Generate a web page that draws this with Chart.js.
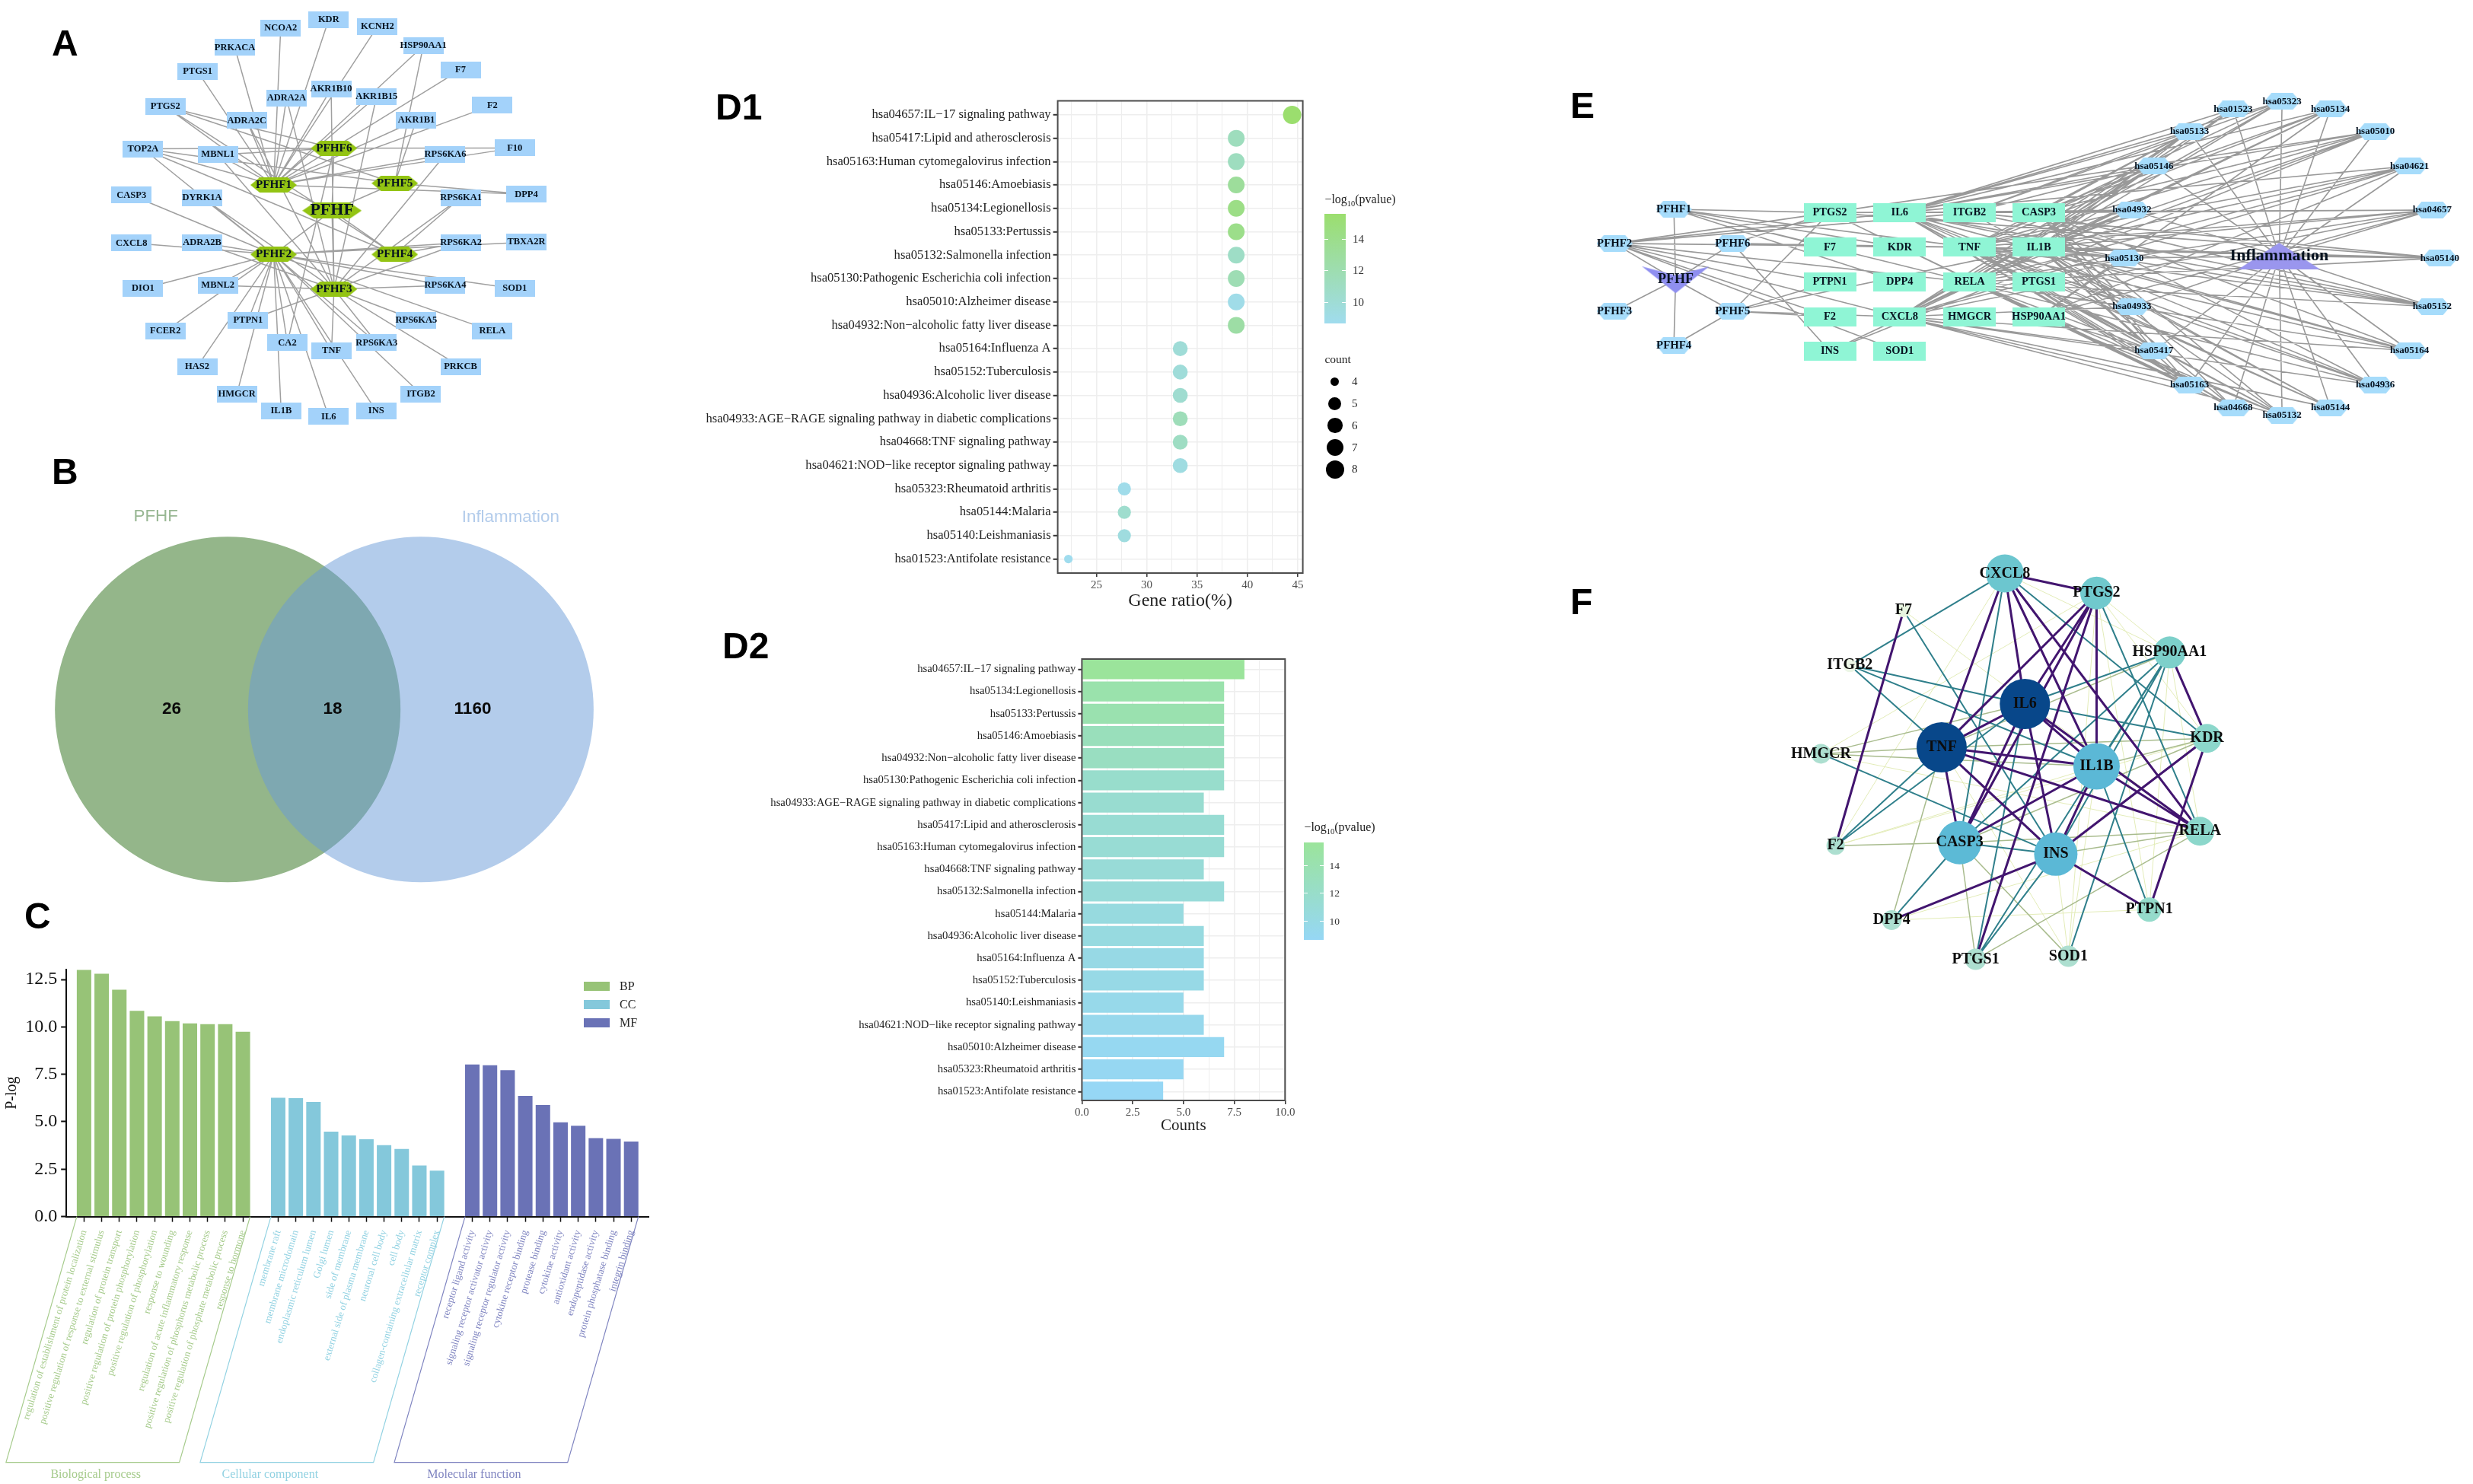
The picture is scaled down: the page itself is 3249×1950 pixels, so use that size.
<!DOCTYPE html>
<html>
<head>
<meta charset="utf-8">
<script src="https://cdn.jsdelivr.net/npm/chart.js@4"></script>
<style>
  html, body { margin: 0; background: #fff; }
  body { position: relative; width: 3249px; height: 1950px; overflow: hidden; }
  canvas { position: absolute; filter: blur(.45px); }
  .tag { position: absolute; white-space: nowrap; line-height: normal; filter: blur(.35px); }
</style>
</head>
<body>
<script>
// ---- panel A: network
const aNames = ['KDR','NCOA2','KCNH2','PRKACA','HSP90AA1','PTGS1','F7','AKR1B10','ADRA2A','AKR1B15','PTGS2','F2','ADRA2C','AKR1B1','TOP2A','MBNL1','F10','RPS6KA6','CASP3','DYRK1A','RPS6KA1','DPP4','CXCL8','ADRA2B','RPS6KA2','TBXA2R','DIO1','MBNL2','RPS6KA4','SOD1','FCER2','PTPN1','RPS6KA5','RELA','CA2','TNF','RPS6KA3','HAS2','PRKCB','HMGCR','ITGB2','IL1B','IL6','INS'];
const aX = [795,679,913,568,1024,478,1114,801,693,911,400,1191,597,1007,346,527,1245,1077,318,489,1115,1273,318,489,1115,1273,346,527,1077,1245,400,600,1007,1191,695,802,911,477,1114,573,1018,680,795,910];
const aY = [68,97,91,163,157,245,239,305,336,330,365,361,413,412,510,530,507,530,669,677,677,666,833,832,832,830,989,978,978,989,1135,1098,1098,1135,1175,1202,1175,1257,1257,1350,1350,1408,1428,1408];
const aHubs = ['PFHF','PFHF6','PFHF1','PFHF5','PFHF2','PFHF4','PFHF3'];
const aHubX = [803,808,662,955,662,955,808];
const aHubY = [722,508,634,628,872,872,991];
const aLinksHub = ['PFHF1','PFHF2','PFHF3','PFHF4','PFHF5','PFHF6'];
const aLinks1 = ['KDR','NCOA2','KCNH2','PRKACA','HSP90AA1','PTGS1','F7','F2','AKR1B10','ADRA2A','AKR1B15','PTGS2','ADRA2C','AKR1B1','TOP2A','MBNL1','F10','RPS6KA6','DPP4'];
const aLinks2 = ['TOP2A','CASP3','DYRK1A','CXCL8','ADRA2B','RPS6KA2','TBXA2R','DIO1','MBNL2','RPS6KA4','SOD1','FCER2','PTPN1','RELA','CA2','TNF','RPS6KA3','HAS2','HMGCR','ITGB2','IL1B','IL6','INS'];
const aLinks3 = ['AKR1B10','AKR1B15','ADRA2C','MBNL1','RPS6KA6','DYRK1A','RPS6KA1','ADRA2B','RPS6KA2','MBNL2','RPS6KA4','PTPN1','RPS6KA5','RPS6KA3','PRKCB','TNF','ADRA2A'];
const aLinks4 = ['TOP2A','RPS6KA1','RPS6KA2','PTGS2'];
const aLinks5 = ['PTGS2','HSP90AA1','AKR1B1','TOP2A','DPP4'];
const aLinks6 = ['TOP2A','MBNL1','F10','PTGS2','CA2'];

// ---- panel B: venn
const vennSets = ['PFHF','Inflammation'];
const vennCounts = ['26','18','1160'];

// ---- panel C: GO bars
const bpTerms = ['regulation of establishment of protein localization','positive regulation of response to external stimulus','regulation of protein transport','positive regulation of protein phosphorylation','positive regulation of phosphorylation','response to wounding','regulation of acute inflammatory response','positive regulation of phosphorus metabolic process','positive regulation of phosphate metabolic process','response to hormone'];
const ccTerms = ['membrane raft','membrane microdomain','endoplasmic reticulum lumen','Golgi lumen','side of membrane','external side of plasma membrane','neuronal cell body','cell body','collagen-containing extracellular matrix','receptor complex'];
const mfTerms = ['receptor ligand activity','signaling receptor activator activity','signaling receptor regulator activity','cytokine receptor binding','protease binding','cytokine activity','antioxidant activity','endopeptidase activity','protein phosphatase binding','integrin binding'];
const bpValues = [13.0,12.8,11.96,10.85,10.55,10.3,10.18,10.14,10.14,9.74];
const ccValues = [6.26,6.24,6.04,4.48,4.28,4.08,3.76,3.56,2.69,2.42];
const mfValues = [8.02,7.98,7.72,6.36,5.88,4.97,4.79,4.14,4.10,3.96];

// ---- panel D1: KEGG dots
const d1Labels = ['hsa04657:IL−17 signaling pathway','hsa05417:Lipid and atherosclerosis','hsa05163:Human cytomegalovirus infection','hsa05146:Amoebiasis','hsa05134:Legionellosis','hsa05133:Pertussis','hsa05132:Salmonella infection','hsa05130:Pathogenic Escherichia coli infection','hsa05010:Alzheimer disease','hsa04932:Non−alcoholic fatty liver disease','hsa05164:Influenza A','hsa05152:Tuberculosis','hsa04936:Alcoholic liver disease','hsa04933:AGE−RAGE signaling pathway in diabetic complications','hsa04668:TNF signaling pathway','hsa04621:NOD−like receptor signaling pathway','hsa05323:Rheumatoid arthritis','hsa05144:Malaria','hsa05140:Leishmaniasis','hsa01523:Antifolate resistance'];
const d1Ratio = [44.44,38.89,38.89,38.89,38.89,38.89,38.89,38.89,38.89,38.89,33.33,33.33,33.33,33.33,33.33,33.33,27.78,27.78,27.78,22.22];
const d1Count = [8,7,7,7,7,7,7,7,7,7,6,6,6,6,6,6,5,5,5,4];
const d1Log = [15.5,11.3,11.2,13.1,14.2,14.0,10.8,11.8,9.0,12.6,9.9,9.8,10.3,11.5,11.0,9.4,8.9,10.4,9.5,8.7];
const countLevels = [4,5,6,7,8];

// ---- panel D2: KEGG bars
const d2Labels = ['hsa04657:IL−17 signaling pathway','hsa05134:Legionellosis','hsa05133:Pertussis','hsa05146:Amoebiasis','hsa04932:Non−alcoholic fatty liver disease','hsa05130:Pathogenic Escherichia coli infection','hsa04933:AGE−RAGE signaling pathway in diabetic complications','hsa05417:Lipid and atherosclerosis','hsa05163:Human cytomegalovirus infection','hsa04668:TNF signaling pathway','hsa05132:Salmonella infection','hsa05144:Malaria','hsa04936:Alcoholic liver disease','hsa05164:Influenza A','hsa05152:Tuberculosis','hsa05140:Leishmaniasis','hsa04621:NOD−like receptor signaling pathway','hsa05010:Alzheimer disease','hsa05323:Rheumatoid arthritis','hsa01523:Antifolate resistance'];
const d2Counts = [8,7,7,7,7,7,6,7,7,6,7,5,6,6,6,5,6,7,5,4];
const d2Log = [15.5,14.2,14.0,13.1,12.6,11.8,11.5,11.3,11.2,11.0,10.8,10.4,10.3,9.9,9.8,9.5,9.4,9.0,8.9,8.7];

// ---- panel E: network
const eLeft = ['PFHF1','PFHF2','PFHF6','PFHF3','PFHF5','PFHF4'];
const eLeftX = [195,93,296,93,296,195];
const eLeftY = [557,692,692,960,960,1095];
const eGenes = ['PTGS2','IL6','ITGB2','CASP3','F7','KDR','TNF','IL1B','PTPN1','DPP4','RELA','PTGS1','F2','CXCL8','HMGCR','HSP90AA1','INS','SOD1'];
const eGeneX = [463,583,703,822,463,583,703,822,463,583,703,822,463,583,703,822,463,583];
const eGeneY = [570,570,570,570,707,707,707,707,845,845,845,845,982,982,982,982,1118,1118];
const ePaths = ['hsa01523','hsa05323','hsa05134','hsa05133','hsa05010','hsa05146','hsa04621','hsa04932','hsa04657','hsa05130','hsa05140','hsa04933','hsa05152','hsa05417','hsa05164','hsa05163','hsa04936','hsa04668','hsa05132','hsa05144'];
const ePathX = [1156,1240,1323,1081,1400,1020,1459,982,1498,969,1511,982,1498,1020,1459,1081,1400,1156,1240,1323];
const ePathY = [161,130,161,249,249,386,386,560,560,750,750,942,942,1116,1116,1252,1252,1342,1372,1342];
const eHubs = ['PFHF','Inflammation'];
const eHubX = [198,1235];
const eHubY = [836,742];
const ePfhfLinks = ['PFHF-PFHF1','PFHF-PFHF2','PFHF-PFHF3','PFHF-PFHF4','PFHF-PFHF5','PFHF-PFHF6','PFHF4-PFHF5',
  'PFHF1-PTGS2','PFHF1-F7','PFHF1-KDR','PFHF1-DPP4','PFHF1-TNF','PFHF1-RELA',
  'PFHF2-IL6','PFHF2-ITGB2','PFHF2-PTGS2','PFHF2-TNF','PFHF2-PTPN1','PFHF2-RELA','PFHF2-F2','PFHF2-SOD1','PFHF2-CXCL8',
  'PFHF6-F7','PFHF6-KDR','PFHF6-PTGS2','PFHF6-INS','PFHF6-TNF',
  'PFHF5-F2','PFHF5-PTGS2','PFHF5-CXCL8','PFHF5-PTPN1','PFHF5-IL1B'];
const eGeneLinks = ['hsa04657 PTGS2 IL6 CASP3 TNF IL1B RELA CXCL8 HSP90AA1','hsa05417 IL6 CASP3 TNF IL1B RELA CXCL8 HSP90AA1','hsa05163 PTGS2 IL6 CASP3 TNF IL1B RELA CXCL8','hsa05146 IL6 CASP3 TNF IL1B RELA CXCL8 ITGB2','hsa05134 IL6 TNF IL1B CASP3 RELA CXCL8 HSP90AA1','hsa05133 IL6 TNF IL1B CASP3 RELA CXCL8 ITGB2','hsa05132 IL6 TNF IL1B CASP3 RELA CXCL8 HSP90AA1','hsa05130 IL6 TNF IL1B CASP3 RELA CXCL8 HSP90AA1','hsa05010 IL6 TNF IL1B CASP3 RELA PTGS2 INS','hsa04932 IL6 TNF IL1B CASP3 RELA CXCL8 INS','hsa05164 IL6 TNF IL1B RELA CXCL8 CASP3','hsa05152 IL6 TNF IL1B RELA CASP3 ITGB2','hsa04936 IL6 TNF IL1B RELA CASP3 CXCL8','hsa04933 IL6 TNF IL1B RELA CASP3 CXCL8','hsa04668 IL6 TNF IL1B RELA CASP3 PTGS2','hsa04621 IL6 TNF IL1B RELA CXCL8 HSP90AA1','hsa05323 IL6 TNF IL1B CXCL8 ITGB2','hsa05144 IL6 TNF IL1B CXCL8 ITGB2','hsa05140 TNF IL1B RELA PTGS2 ITGB2','hsa01523 IL6 TNF IL1B RELA'];

// ---- panel F: PPI network
const fNames = ['CXCL8','PTGS2','F7','HSP90AA1','ITGB2','IL6','KDR','TNF','HMGCR','IL1B','RELA','F2','CASP3','INS','DPP4','PTPN1','PTGS1','SOD1'];
const fX = [748,1018,450,1233,292,807,1343,562,207,1018,1322,250,615,898,415,1173,662,935];
const fY = [135,200,258,397,440,568,682,712,733,775,990,1038,1028,1066,1285,1250,1415,1405];
const fDegree = [12,11,2,10,2,17,9,17,4,14,9,3,13,13,4,6,5,5];
const fStrong = ['CXCL8-PTGS2','CXCL8-TNF','CXCL8-IL6','CXCL8-IL1B','CXCL8-RELA','PTGS2-TNF','PTGS2-IL6','PTGS2-IL1B','PTGS2-CASP3','PTGS2-PTGS1','TNF-IL6','TNF-IL1B','TNF-RELA','TNF-CASP3','TNF-INS','IL6-IL1B','IL6-RELA','IL6-CASP3','IL1B-RELA','IL1B-CASP3','IL1B-INS','HSP90AA1-KDR','KDR-PTPN1','F7-F2','INS-DPP4','INS-PTPN1','INS-KDR','IL6-INS'];
const fMid = ['CXCL8-ITGB2','CXCL8-KDR','CXCL8-CASP3','PTGS2-RELA','ITGB2-TNF','ITGB2-IL6','ITGB2-IL1B','HSP90AA1-IL6','HSP90AA1-IL1B','HSP90AA1-INS','HSP90AA1-CASP3','HSP90AA1-PTGS1','HSP90AA1-SOD1','IL1B-PTPN1','IL6-KDR','F2-TNF','F2-IL6','HMGCR-INS','F7-INS','CASP3-DPP4','CASP3-INS','INS-PTGS1','IL6-PTGS1'];
const fOlive = ['HMGCR-TNF','F2-CASP3','HMGCR-IL1B','HMGCR-IL6','RELA-INS','RELA-CASP3','KDR-TNF','KDR-IL1B','KDR-CASP3','CASP3-SOD1','RELA-PTGS1','HSP90AA1-TNF','CASP3-PTGS1','TNF-DPP4'];
const fWeak = ['F7-RELA','HMGCR-RELA','CXCL8-F2','PTGS2-HMGCR','CXCL8-HSP90AA1','PTGS2-HSP90AA1','PTGS2-KDR','HSP90AA1-RELA','HSP90AA1-PTPN1','DPP4-PTPN1','F2-IL1B','INS-SOD1','IL1B-SOD1','PTGS2-SOD1','TNF-SOD1','KDR-F2','PTGS2-PTPN1','RELA-DPP4'];
const fShades = [[108,198,207],[112,201,205],[232,245,224],[125,208,202],[236,246,230],[8,71,138],[140,215,203],[8,71,138],[173,223,208],[91,184,214],[140,215,203],[173,223,208],[92,186,214],[91,184,214],[173,223,208],[149,219,203],[173,223,208],[173,223,208]];

const SERIF = '"Liberation Serif"';
const SANS = '"Liberation Sans"';
Chart.defaults.font.family = SERIF;
Chart.defaults.animation = false;

function addCanvas(x, y, w, h) {
  const c = document.createElement('canvas');
  c.width = w; c.height = h;
  c.style.left = x + 'px'; c.style.top = y + 'px';
  c.style.width = w + 'px'; c.style.height = h + 'px';
  document.body.appendChild(c);
  return c;
}

// baseline placed text
function tag(html, x, base, size, font, color, opts = {}) {
  const d = document.createElement('div');
  d.className = 'tag';
  d.innerHTML = html;
  d.style.left = x + 'px';
  d.style.top = (base - (font === SANS ? 0.905 : 0.891) * size) + 'px';
  d.style.fontSize = size + 'px';
  d.style.fontFamily = font;
  d.style.color = color;
  if (opts.bold) d.style.fontWeight = 'bold';
  if (opts.center) d.style.transform = 'translateX(-50%)';
  document.body.appendChild(d);
}

function box(x, y, w, h, css) {
  const d = document.createElement('div');
  d.style.cssText = `position:absolute;left:${x}px;top:${y}px;width:${w}px;height:${h}px;${css}`;
  document.body.appendChild(d);
}

function mark(kind, w, h, color) {
  const c = document.createElement('canvas');
  c.width = w; c.height = h;
  const g = c.getContext('2d');
  const shapes = {
    rect: [[0,0],[1,0],[1,1],[0,1]],
    hexFlat: [[0,.5],[.2,0],[.8,0],[1,.5],[.8,1],[.2,1]],
    vee: [[0,0],[.5,.33],[1,0],[.5,1]],
    tri: [[.5,0],[1,1],[0,1]]
  };
  g.fillStyle = color;
  g.beginPath();
  shapes[kind].forEach(p => g.lineTo(p[0] * w, p[1] * h));
  g.closePath();
  g.fill();
  return c;
}

function edgeData(pairs, names, xs, ys) {
  const out = [];
  pairs.forEach(([a, b]) => {
    const i = names.indexOf(a), j = names.indexOf(b);
    if (i < 0 || j < 0) return;
    out.push({x: xs[i], y: ys[i]}, {x: xs[j], y: ys[j]}, {x: null, y: null});
  });
  return out;
}

function edgeSet(data, color, width) {
  return {type: 'scatter', data, showLine: true, borderColor: color, borderWidth: width, pointRadius: 0, spanGaps: false, order: 2};
}

// text centred on each node of dataset 0
const nodeText = {
  id: 'nodeText',
  afterDatasetsDraw(chart, args, opts) {
    const ctx = chart.ctx;
    const pts = chart.getDatasetMeta(0).data;
    ctx.save();
    ctx.textAlign = 'center';
    ctx.textBaseline = 'middle';
    pts.forEach((p, i) => {
      ctx.font = opts.fonts[i];
      ctx.fillStyle = opts.color;
      ctx.fillText(opts.names[i], p.x, p.y);
    });
    ctx.restore();
  }
};

function network(rect, maxX, maxY, datasets, names, fonts, color) {
  return new Chart(addCanvas(...rect), {
    type: 'scatter',
    data: {datasets},
    options: {
      responsive: false, devicePixelRatio: 1,
      layout: {autoPadding: false},
      scales: {
        x: {type: 'linear', min: 0, max: maxX, display: false},
        y: {type: 'linear', min: 0, max: maxY, reverse: true, display: false}
      },
      plugins: {legend: {display: false}, tooltip: {enabled: false}, nodeText: {names, fonts, color}}
    },
    plugins: [nodeText]
  });
}

const fitAxis = size => s => { if (s.isHorizontal()) s.height = size; else s.width = size; };

const frame = {
  id: 'frame',
  afterDraw(chart) {
    const a = chart.chartArea, ctx = chart.ctx;
    ctx.save();
    ctx.strokeStyle = '#4d4d4d';
    ctx.lineWidth = 2;
    ctx.strokeRect(a.left, a.top, a.width, a.height);
    ctx.restore();
  }
};

function ramp(v, lo, hi) {
  const t = Math.min(1, Math.max(0, (v - 8.7) / (15.5 - 8.7)));
  return `rgb(${lo.map((c, i) => Math.round(c + (hi[i] - c) * t)).join(',')})`;
}

// ---- A
const aPairs = [];
[['PFHF', aLinksHub], ['PFHF1', aLinks1], ['PFHF2', aLinks2], ['PFHF3', aLinks3], ['PFHF4', aLinks4], ['PFHF5', aLinks5], ['PFHF6', aLinks6]]
  .forEach(([hub, list]) => list.forEach(n => aPairs.push([hub, n])));
const aAllN = aNames.concat(aHubs), aAllX = aX.concat(aHubX), aAllY = aY.concat(aHubY);
const aRect = mark('rect', 53, 22, '#a3d2fa');
network([0, 0, 850, 600], 1565, 1565, [
  {
    data: aAllN.map((n, i) => ({x: aAllX[i], y: aAllY[i]})),
    pointStyle: aAllN.map(n => n === 'PFHF' ? mark('hexFlat', 78, 21, '#93c413') : n.startsWith('PFHF') ? mark('hexFlat', 61, 20, '#93c413') : aRect),
    pointRadius: 5, order: 1
  },
  edgeSet(edgeData(aPairs, aAllN, aAllX, aAllY), '#a0a0a0', 1.5)
], aAllN, aAllN.map(n => n === 'PFHF' ? `bold 22px ${SERIF}` : n.startsWith('PFHF') ? `bold 15.2px ${SERIF}` : `bold 12.5px ${SERIF}`), '#06121f');

// ---- B
new Chart(addCanvas(40, 590, 780, 600), {
  type: 'bubble',
  data: {datasets: [{
    data: [{x: 521, y: 890, r: 227}, {x: 1031, y: 890, r: 227}],
    backgroundColor: ['rgb(148,182,138)', 'rgba(103,153,215,.5)'],
    borderWidth: 0, clip: false
  }]},
  options: {
    responsive: false, devicePixelRatio: 1,
    layout: {autoPadding: false},
    scales: {x: {min: 0, max: 1568, display: false}, y: {min: 0, max: 1560, reverse: true, display: false}},
    plugins: {legend: {display: false}, tooltip: {enabled: false}}
  }
});
tag(vennSets[0], 204.7, 685, 22.4, SANS, '#98b793', {center: true});
tag(vennSets[1], 670.8, 686, 22.4, SANS, '#b3ccEB', {center: true});
tag(vennCounts[0], 225.6, 938, 22.5, SANS, '#0a0a0a', {center: true, bold: true});
tag(vennCounts[1], 437, 938, 22.5, SANS, '#0a0a0a', {center: true, bold: true});
tag(vennCounts[2], 621, 938, 22.5, SANS, '#0a0a0a', {center: true, bold: true});

// ---- C
const goColors = ['#97c377', '#84c8db', '#6a72b6'];
const goLabelColors = ['#a6cb8c', '#92d2e2', '#7f84c0'];
const goGroups = ['Biological process', 'Cellular component', 'Molecular function'];
const goGroupShift = [-89, -115, -102];
const goLegend = ['BP', 'CC', 'MF'];
const goCats = ['', ...bpTerms, '', ...ccTerms, '', ...mfTerms, ''];
const nul = n => Array(n).fill(null);
const goGroupOf = i => i < 11 ? 0 : i < 22 ? 1 : 2;

const goFrames = {
  id: 'goFrames',
  afterDraw(chart) {
    const ctx = chart.ctx, sx = chart.scales.x, base = chart.chartArea.bottom;
    const half = 9.5;
    [[1, 10], [12, 21], [23, 32]].forEach(([a, b], k) => {
      const l = sx.getPixelForValue(a) - half, r = sx.getPixelForValue(b) + half;
      ctx.save();
      ctx.strokeStyle = goLabelColors[k];
      ctx.lineWidth = 1.2;
      ctx.beginPath();
      ctx.moveTo(l, base);
      ctx.lineTo(l - 93, base + 323);
      ctx.lineTo(r - 93, base + 323);
      ctx.lineTo(r, base);
      ctx.stroke();
      ctx.fillStyle = goLabelColors[k];
      ctx.font = `16px ${SERIF}`;
      ctx.textAlign = 'center';
      ctx.textBaseline = 'middle';
      ctx.fillText(goGroups[k], (l + r) / 2 + goGroupShift[k], base + 339);
      ctx.restore();
    });
  }
};

new Chart(addCanvas(0, 1180, 900, 770), {
  type: 'bar',
  data: {
    labels: goCats,
    datasets: [
      {label: 'BP', data: [null, ...bpValues, ...nul(23)], backgroundColor: goColors[0]},
      {label: 'CC', data: [...nul(12), ...ccValues, ...nul(12)], backgroundColor: goColors[1]},
      {label: 'MF', data: [...nul(23), ...mfValues, null], backgroundColor: goColors[2]}
    ]
  },
  options: {
    responsive: false, devicePixelRatio: 1, grouped: false,
    barPercentage: 0.82, categoryPercentage: 1,
    layout: {autoPadding: false, padding: {top: 93.8, right: 47.6, left: 0, bottom: 0}},
    scales: {
      x: {
        type: 'category', offset: false, afterFit: fitAxis(351.4),
        border: {color: '#111', width: 2},
        grid: {drawOnChartArea: false, offset: false, tickLength: 7, tickWidth: 1.5, tickColor: c => goCats[c.index] ? '#111' : 'transparent'},
        ticks: {autoSkip: false, minRotation: 73, maxRotation: 73, padding: 9, font: {size: 13}, color: c => goLabelColors[goGroupOf(c.index)]}
      },
      y: {
        min: 0, max: 13.03, afterFit: fitAxis(87.2),
        afterBuildTicks: s => { s.ticks = [0, 2.5, 5, 7.5, 10, 12.5].map(value => ({value})); },
        border: {color: '#111', width: 2},
        grid: {drawOnChartArea: false, tickLength: 7, tickWidth: 2, tickColor: '#111'},
        ticks: {padding: 5, font: {size: 24}, color: '#111', callback: v => v.toFixed(1)},
        title: {display: true, text: 'P-log', font: {size: 20}, color: '#111', padding: {top: 4, bottom: 0}}
      }
    },
    plugins: {legend: {display: false}, tooltip: {enabled: false}}
  },
  plugins: [goFrames]
});
goLegend.forEach((t, i) => {
  const y = 1290 + i * 23.8;
  box(767.4, y, 33.3, 12, `background:${goColors[i]}`);
  tag(t, 814, y + 11.5, 16, SERIF, '#222');
});

// ---- D1
const dotRadius = [5.6, 8.6, 9.8, 11, 12];
const d1Low = [160, 220, 238], d1High = [155, 222, 110];
new Chart(addCanvas(920, 100, 960, 720), {
  type: 'bubble',
  data: {datasets: [{
    data: d1Ratio.map((x, i) => ({x, y: i, r: dotRadius[countLevels.indexOf(d1Count[i])]})),
    backgroundColor: d1Log.map(v => ramp(v, d1Low, d1High)),
    borderWidth: 0
  }]},
  options: {
    responsive: false, devicePixelRatio: 1,
    layout: {autoPadding: false, padding: {top: 32.5, right: 168.4, bottom: 15.6, left: 0}},
    scales: {
      x: {
        type: 'linear', min: 21.16, max: 45.5, afterFit: fitAxis(51.4),
        afterBuildTicks: s => { s.ticks = [22.5, 25, 27.5, 30, 32.5, 35, 37.5, 40, 42.5, 45].map(value => ({value})); },
        grid: {color: '#eeeeee', lineWidth: c => c.tick && c.tick.value % 5 === 0 ? 1.6 : 1, tickLength: 5, tickWidth: 1.5, tickColor: c => c.tick && c.tick.value % 5 === 0 ? '#333' : 'transparent'},
        border: {display: false},
        ticks: {autoSkip: false, maxRotation: 0, padding: 2, font: {size: 15}, color: '#4d4d4d', callback: v => v % 5 === 0 ? String(v) : ''},
        title: {display: true, text: 'Gene ratio(%)', font: {size: 24}, color: '#222', padding: 0}
      },
      y: {
        type: 'linear', min: -0.6, max: 19.6, reverse: true, afterFit: fitAxis(469.6),
        afterBuildTicks: s => { s.ticks = d1Labels.map((_, value) => ({value})); },
        grid: {color: '#eeeeee', lineWidth: 1.6, tickLength: 6, tickWidth: 2, tickColor: '#333'},
        border: {display: false},
        ticks: {autoSkip: false, padding: 3, font: {size: 16.6}, color: '#222', callback: v => d1Labels[v]}
      }
    },
    plugins: {legend: {display: false}, tooltip: {enabled: false}}
  },
  plugins: [frame]
});

function colorBar(x, y, w, h, lo, hi, ticks, labelX, size) {
  box(x, y, w, h, `background:linear-gradient(to top, rgb(${lo}), rgb(${hi}))`);
  ticks.forEach(([t, ty]) => {
    box(x, ty, 5, 1, 'background:#fff');
    box(x + w - 5, ty, 5, 1, 'background:#fff');
    tag(t, labelX, ty + size * 0.34, size, SERIF, '#333');
  });
}
tag('−log<sub style="font-size:.65em">10</sub>(pvalue)', 1740.4, 267, 16, SERIF, '#222');
colorBar(1740.4, 281, 28, 144, d1Low, d1High, [['14', 314], ['12', 355], ['10', 397]], 1777, 15);
tag('count', 1740.4, 477, 15.5, SERIF, '#222');
countLevels.forEach((c, i) => {
  const r = dotRadius[i], cy = 501.5 + i * 28.8;
  box(1753.8 - r, cy - r, 2 * r, 2 * r, 'background:#000;border-radius:50%');
  tag(String(c), 1776, cy + 5, 15, SERIF, '#222');
});

// ---- D2
const d2Low = [150, 215, 245], d2High = [155, 228, 155];
new Chart(addCanvas(920, 810, 960, 700), {
  type: 'bar',
  data: {datasets: [{
    data: d2Counts.map((x, i) => ({x, y: i})),
    backgroundColor: d2Log.map(v => ramp(v, d2Low, d2High)),
    barPercentage: 0.9, categoryPercentage: 1
  }]},
  options: {
    indexAxis: 'y',
    responsive: false, devicePixelRatio: 1,
    layout: {autoPadding: false, padding: {top: 56, right: 191.7, bottom: 18.4, left: 0}},
    scales: {
      x: {
        type: 'linear', min: 0, max: 10, afterFit: fitAxis(45.6),
        afterBuildTicks: s => { s.ticks = [0, 1.25, 2.5, 3.75, 5, 6.25, 7.5, 8.75, 10].map(value => ({value})); },
        grid: {color: '#eeeeee', lineWidth: c => c.tick && c.tick.value % 2.5 === 0 ? 1.6 : 1, tickLength: 5, tickWidth: 1.5, tickColor: c => c.tick && c.tick.value % 2.5 === 0 ? '#333' : 'transparent'},
        border: {display: false},
        ticks: {autoSkip: false, maxRotation: 0, padding: 2, font: {size: 15}, color: '#4d4d4d', callback: v => v % 2.5 === 0 ? v.toFixed(1) : ''},
        title: {display: true, text: 'Counts', font: {size: 21}, color: '#222', padding: 0}
      },
      y: {
        type: 'linear', min: -0.46, max: 19.4, reverse: true, offset: false, afterFit: fitAxis(501.4),
        afterBuildTicks: s => { s.ticks = d2Labels.map((_, value) => ({value})); },
        grid: {offset: false, color: '#eeeeee', lineWidth: 1.6, tickLength: 5, tickWidth: 2, tickColor: '#333'},
        border: {display: false},
        ticks: {autoSkip: false, padding: 3, font: {size: 14.7}, color: '#222', callback: v => d2Labels[v]}
      }
    },
    plugins: {legend: {display: false}, tooltip: {enabled: false}}
  },
  plugins: [frame]
});
tag('−log<sub style="font-size:.65em">10</sub>(pvalue)', 1713.4, 1092, 16, SERIF, '#222');
colorBar(1713.4, 1107, 25.2, 128, d2Low, d2High, [['14', 1137], ['12', 1173], ['10', 1210]], 1746.5, 13.5);

// ---- E
const eAllN = eHubs.concat(eLeft, eGenes, ePaths);
const eAllX = eHubX.concat(eLeftX, eGeneX, ePathX);
const eAllY = eHubY.concat(eLeftY, eGeneY, ePathY);
const ePairs = ePfhfLinks.map(s => s.split('-'));
eGeneLinks.forEach(row => {
  const [p, ...genes] = row.split(' ');
  genes.forEach(g => ePairs.push([p, g]));
});
ePaths.forEach(p => ePairs.push(['Inflammation', p]));
const eHex = mark('hexFlat', 47, 22, '#a6dcfb');
const eSquare = mark('rect', 69, 25, '#8ff5d5');
network([2050, 90, 1199, 500], 1568, 1505, [
  {
    data: eAllN.map((n, i) => ({x: eAllX[i], y: eAllY[i]})),
    pointStyle: eAllN.map(n => n === 'PFHF' ? mark('vee', 88, 35, '#8f8ff0') : n === 'Inflammation' ? mark('tri', 108, 35, '#9a96ee') : eGenes.includes(n) ? eSquare : eHex),
    pointRadius: 5, order: 1
  },
  edgeSet(edgeData(ePairs, eAllN, eAllX, eAllY), '#999999', 1.6)
], eAllN, eAllN.map(n => n === 'PFHF' ? `bold 18px ${SERIF}` : n === 'Inflammation' ? `bold 22px ${SERIF}` : eGenes.includes(n) ? `bold 14.5px ${SERIF}` : n.startsWith('hsa') ? `bold 13px ${SERIF}` : `bold 14.8px ${SERIF}`), '#06121f');

// ---- F
const fRadius = d => d >= 17 ? 33 : d >= 14 ? 30.5 : d >= 13 ? 28.5 : d >= 12 ? 25 : d >= 11 ? 21.5 : d >= 10 ? 21 : d >= 9 ? 19 : d >= 6 ? 16 : d >= 5 ? 14 : d >= 4 ? 13 : d >= 3 ? 12 : 9;
const fSplit = list => list.map(s => s.split('-'));
network([2300, 700, 700, 620], 1568, 1565, [
  {
    data: fNames.map((n, i) => ({x: fX[i], y: fY[i]})),
    backgroundColor: fShades.map(c => `rgb(${c})`),
    borderWidth: 0,
    pointRadius: fDegree.map(fRadius),
    order: 1
  },
  edgeSet(edgeData(fSplit(fStrong), fNames, fX, fY), '#42156f', 3),
  edgeSet(edgeData(fSplit(fMid), fNames, fX, fY), '#2f7f8b', 2),
  edgeSet(edgeData(fSplit(fOlive), fNames, fX, fY), '#a9bc8e', 1.5),
  edgeSet(edgeData(fSplit(fWeak), fNames, fX, fY), '#e3ecb8', 1)
].map((d, i) => { if (i) d.order = i + 1; return d; }), fNames, fNames.map(() => `bold 20px ${SERIF}`), '#0c0c0c');

// ---- panel letters
[['A', 68, 72], ['B', 68, 635], ['C', 32, 1219], ['D1', 940, 156], ['D2', 949, 864], ['E', 2063, 154], ['F', 2063, 806]]
  .forEach(([t, x, y]) => tag(t, x, y, 48, SANS, '#000', {bold: true}));
</script>
</body>
</html>
